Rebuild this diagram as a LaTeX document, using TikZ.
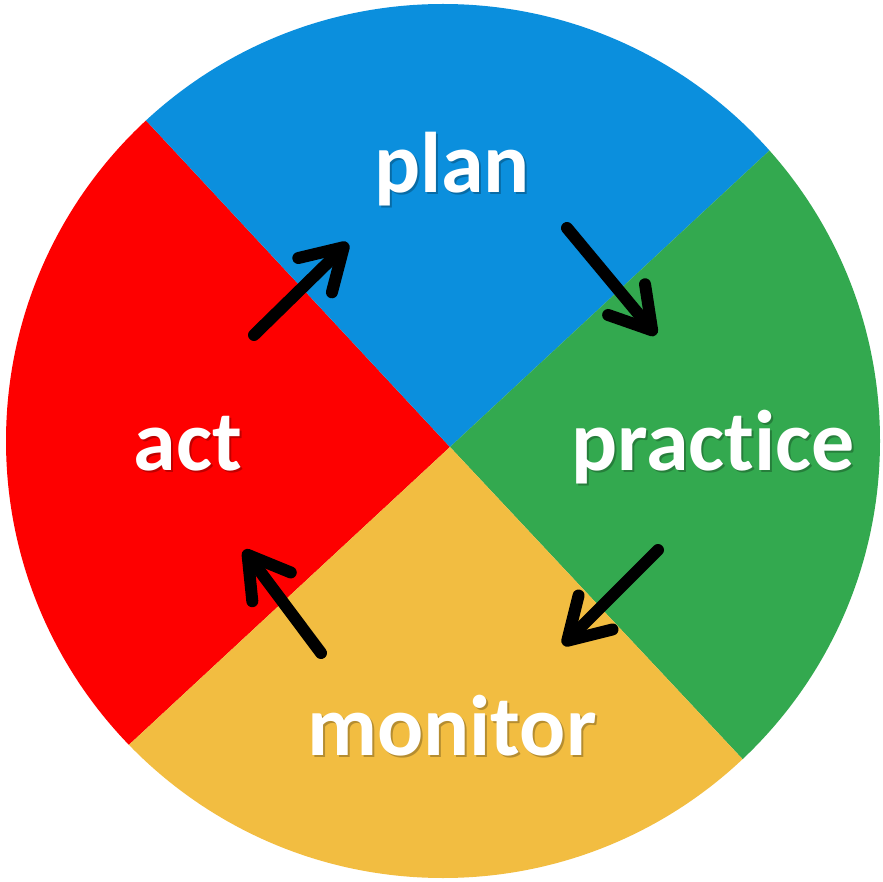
\documentclass[tikz,border=0pt]{standalone}
\usepackage{fontspec}
\setmainfont[Ligatures=NoCommon]{Carlito}
\usetikzlibrary{arrows.meta}
\definecolor{qblue}{HTML}{0B8FDD}
\definecolor{qred}{HTML}{FE0000}
\definecolor{qgreen}{HTML}{33A94F}
\definecolor{qyellow}{HTML}{F2BD41}
\tikzset{
  lbl/.style={text=white, font=\fontsize{86}{86}\selectfont\bfseries, inner sep=0pt, anchor=base},
  lblshadow/.style={text=black, opacity=0.25, font=\fontsize{86}{86}\selectfont\bfseries, inner sep=0pt, anchor=base},
  cyc/.style={line width=12pt, line cap=round, -{Straight Barb[length=40pt,width=48pt,round]}}
}
\begin{document}
\begin{tikzpicture}[x=1pt,y=1pt]
\useasboundingbox (0,0) rectangle (883,-882);
\coordinate (P) at (450,-447);
\coordinate (RB) at (-144,191);
\coordinate (BG) at (1090,147);
\coordinate (GY) at (1048,-1085);
\coordinate (RY) at (-186,-1037);
\begin{scope}
\clip (443,-441) circle (437);
\fill[qred] (P) -- (RB) -- (-300,191) -- (-300,-1037) -- (RY) -- cycle;
\fill[qblue] (P) -- (RB) -- (-144,300) -- (1090,300) -- (BG) -- cycle;
\fill[qgreen] (P) -- (BG) -- (1200,147) -- (1200,-1085) -- (GY) -- cycle;
\fill[qyellow] (P) -- (GY) -- (1048,-1200) -- (-186,-1200) -- (RY) -- cycle;
\end{scope}
% shadows
\node[lblshadow] (plans) at (454,-195) {plan};
\node[lblshadow] (acts) at (190,-472) {act};
\node[lblshadow] (practices) at (715,-472) {practice};
\node[lblshadow] (monitors) at (454,-757) {monitor};
% labels
\node[lbl] (plan) at (452,-193) {plan};
\node[lbl] (act) at (188,-470) {act};
\node[lbl] (practice) at (713,-470) {practice};
\node[lbl] (monitor) at (452,-755) {monitor};
% arrows
\coordinate (a1s) at (254,-335);
\coordinate (a1e) at (348,-243);
\coordinate (a2s) at (567,-228);
\coordinate (a2e) at (656,-335);
\coordinate (a3s) at (658,-550);
\coordinate (a3e) at (563,-645);
\coordinate (a4s) at (321,-653);
\coordinate (a4e) at (244,-550);
\draw[cyc] (a1s) -- (a1e);
\draw[cyc] (a2s) -- (a2e);
\draw[cyc] (a3s) -- (a3e);
\draw[cyc] (a4s) -- (a4e);
\end{tikzpicture}
\end{document}
